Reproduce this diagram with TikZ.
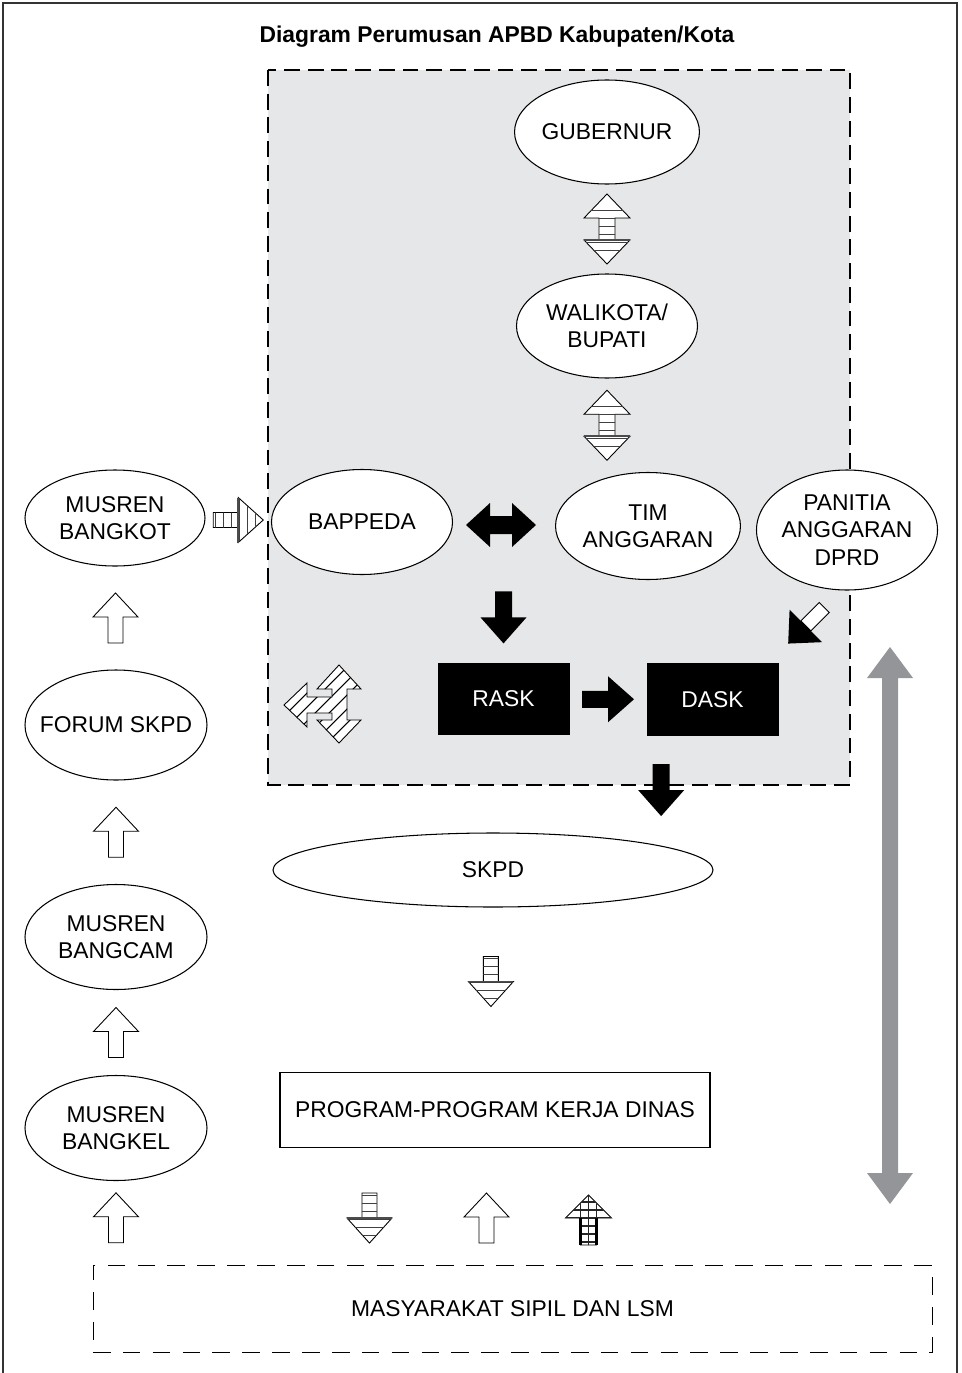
\documentclass[tikz,border=0pt]{standalone}
\usepackage{fontspec}
\setmainfont{Liberation Sans}
\usetikzlibrary{calc,shapes.geometric}
\definecolor{boxgray}{HTML}{E6E7E8}
\definecolor{bigarrow}{HTML}{939598}
\tikzset{
  txt/.style={font=\fontsize{13}{15.5}\selectfont, align=center},
  oval/.style={txt, draw, ellipse, fill=white, line width=0.6pt, inner sep=0pt},
  blackbox/.style={txt, fill=black, text=white, minimum width=26.4mm, minimum height=14.5mm},
  hollowup/.pic={\draw[fill=white, line width=0.5pt] (-7.5,25) -- (-7.5,-1) -- (-22.5,-1) -- (0,-25) -- (22.5,-1) -- (7.5,-1) -- (7.5,25) -- cycle;},
  blackup/.pic={\fill (-8.5,26) -- (-8.5,0) -- (-23,0) -- (0,-26) -- (23,0) -- (8.5,0) -- (8.5,26) -- cycle;},
  stripeup/.pic={
    \draw[fill=white, line width=0.5pt] (-7.5,25) -- (-7.5,0) -- (-22.5,0) -- (0,-25) -- (22.5,0) -- (7.5,0) -- (7.5,25) -- cycle;
    \begin{scope}
      \clip (-7.5,25) -- (-7.5,0) -- (-22.5,0) -- (0,-25) -- (22.5,0) -- (7.5,0) -- (7.5,25) -- cycle;
      \foreach \k in {-17,-9,...,25} \draw[black!75, line width=0.5pt] (-25,\k) -- (25,\k);
    \end{scope}
    \draw[black!70, line width=1pt] (-22.5,0) -- (22.5,0);},
  stripedbl/.pic={
    \draw[fill=white, line width=0.5pt] (0,-35) -- (23,-11) -- (8,-11) -- (8,11) -- (23,11) -- (0,35) -- (-23,11) -- (-8,11) -- (-8,-11) -- (-23,-11) -- cycle;
    \begin{scope}
      \clip (0,-35) -- (23,-11) -- (8,-11) -- (8,11) -- (23,11) -- (0,35) -- (-23,11) -- (-8,11) -- (-8,-11) -- (-23,-11) -- cycle;
      \foreach \k in {-19,-11,...,27} \draw[black!75, line width=0.5pt] (-25,\k) -- (25,\k);
    \end{scope}
    \draw[black!70, line width=1pt] (-23,11) -- (23,11);},
  gridup/.pic={
    \draw[fill=white, line width=0.5pt] (-8,27) -- (-8,0) -- (-23,0) -- (0,-23) -- (23,0) -- (8,0) -- (8,27) -- cycle;
    \begin{scope}
      \clip (-8,27) -- (-8,0) -- (-23,0) -- (0,-23) -- (23,0) -- (8,0) -- (8,27) -- cycle;
      \foreach \k in {-16,-8,...,24} \draw[black!85, line width=0.8pt] (-25,\k) -- (25,\k);
      \foreach \k in {-8,0,8} \draw[black!85, line width=0.8pt] (\k,-25) -- (\k,28);
    \end{scope}
    \draw[black, line width=1.2pt] (-8,27) -- (-8,0) (8,0) -- (8,27);},
  diagarrow/.pic={
    \draw[fill=white, line width=0.5pt] (-7,0) rectangle (7,26);
    \fill (-23,0) -- (0,-25) -- (23,0) -- cycle;}
}
\begin{document}
\begin{tikzpicture}[x=0.2mm, y=-0.2mm]
  %%%%% START %%%%%
  \useasboundingbox (0,0) rectangle (961,1373);
  \draw[line width=0.8pt, black!80] (3,1373) -- (3,3) -- (957,3) -- (957,1373);

  \node[font=\bfseries\fontsize{13}{15.5}\selectfont] (title) at (497,37) {Diagram Perumusan APBD Kabupaten/Kota};

  \draw[fill=boxgray, line width=1.3pt, dash pattern=on 9pt off 4.5pt] (268,70) rectangle (850,785);

  % ellipses
  \node[oval, minimum width=36.2mm, minimum height=20.8mm] (gub) at (607,132) {GUBERNUR};
  \node[oval, minimum width=36.2mm, minimum height=20.8mm] (wali) at (607,326) {WALIKOTA/\\BUPATI};
  \node[oval, minimum width=36.2mm, minimum height=21mm] (bappeda) at (362,522) {BAPPEDA};
  \node[oval, minimum width=36.6mm, minimum height=21.4mm] (tim) at (648,526) {TIM\\ANGGARAN};
  \node[oval, minimum width=36.2mm, minimum height=24mm, inner xsep=-4pt] (panitia) at (847,530) {PANITIA\\ANGGARAN\\DPRD};

  \node[oval, minimum width=36mm, minimum height=19.2mm] (bangkot) at (115,518) {MUSREN\\BANGKOT};
  \node[oval, minimum width=36.4mm, minimum height=22mm, inner xsep=-8pt] (forum) at (116,725) {FORUM SKPD};
  \node[oval, minimum width=36.4mm, minimum height=21mm] (bangcam) at (116,937) {MUSREN\\BANGCAM};
  \node[oval, minimum width=36.4mm, minimum height=21mm] (bangkel) at (116,1128) {MUSREN\\BANGKEL};

  \node[oval, minimum width=88mm, minimum height=14.8mm] (skpd) at (493,870) {SKPD};

  % boxes
  \node[blackbox] (rask) at (503.5,699) {RASK};
  \node[blackbox] (dask) at (712.5,699.5) {DASK};
  \node[txt, draw, line width=0.6pt, minimum width=86mm, minimum height=15mm] (prog) at (495,1110) {PROGRAM-PROGRAM KERJA DINAS};
  \node[txt, draw, line width=0.5pt, dash pattern=on 10pt off 7pt, minimum width=167.8mm, minimum height=17.4mm] (masy) at (512.5,1308.5) {MASYARAKAT SIPIL DAN LSM};

  % arrows inside the box
  \pic at ($(gub.south)!0.5!(wali.north)$) {stripedbl};
  \pic at ($(wali.south)!0.5!(wali.south |- tim.north)$) {stripedbl};
  \pic[rotate=-90] at ($(bangkot.east)!0.5!(bappeda.west)$) {stripeup};

  \fill (466,525) -- (490,503) -- (490,516) -- (512,516) -- (512,503) -- (536,525)
        -- (512,547) -- (512,534) -- (490,534) -- (490,547) -- cycle;
  \pic[rotate=180] at ($(rask.north)+(0,-45)$) {blackup};
  \pic[rotate=-90] at ($(rask.east)!0.5!(dask.west)$) {blackup};
  \pic[rotate=180] at ($(dask.south west)+(15,54)$) {blackup};
  \pic[rotate=135] at ($(dask.north east)+(27,-37)$) {diagarrow};

  % hatched three-way arrow
  \begin{scope}
    \draw[fill=white, line width=0.5pt] (339,665) -- (361,689) -- (347,689) -- (347,720) -- (361,720) -- (339,743) -- (317,720)
      -- (332,720) -- (332,713) -- (307,713) -- (307,727) -- (284,705) -- (307,683) -- (307,697) -- (332,697) -- (332,689) -- (317,689) -- cycle;
    \clip (339,665) -- (361,689) -- (347,689) -- (347,720) -- (361,720) -- (339,743) -- (317,720)
      -- (332,720) -- (332,713) -- (307,713) -- (307,727) -- (284,705) -- (307,683) -- (307,697) -- (332,697) -- (332,689) -- (317,689) -- cycle;
    \foreach \k in {170,184,...,420} \draw[line width=0.6pt] (\k,760) -- (\k+100,660);
  \end{scope}

  % grey double arrow
  \fill[bigarrow] (890,647) -- (913,678) -- (898,678) -- (898,1173) -- (913,1173) -- (890,1204)
        -- (867,1173) -- (882,1173) -- (882,678) -- (867,678) -- cycle;

  % left column
  \pic at ($(bangkot.south)!0.5!(forum.north)$) {hollowup};
  \pic at ($(forum.south)!0.5!(bangcam.north)$) {hollowup};
  \pic at ($(bangcam.south)!0.5!(bangkel.north)$) {hollowup};
  \pic at ($(bangkel.south)!0.5!(bangkel.south |- masy.north)+(0,-5)$) {hollowup};

  % lower arrows
  \pic[rotate=180] at ($(skpd.south)!0.45!(prog.north)+(-3,0)$) {stripeup};
  \pic[rotate=180] at ($(prog.south west)+(90,70)$) {stripeup};
  \pic at ($(prog.south west)+(207,70)$) {hollowup};
  \pic at ($(prog.south west)+(309,70)$) {gridup};
  %%%%% END %%%%%
\end{tikzpicture}
\end{document}
